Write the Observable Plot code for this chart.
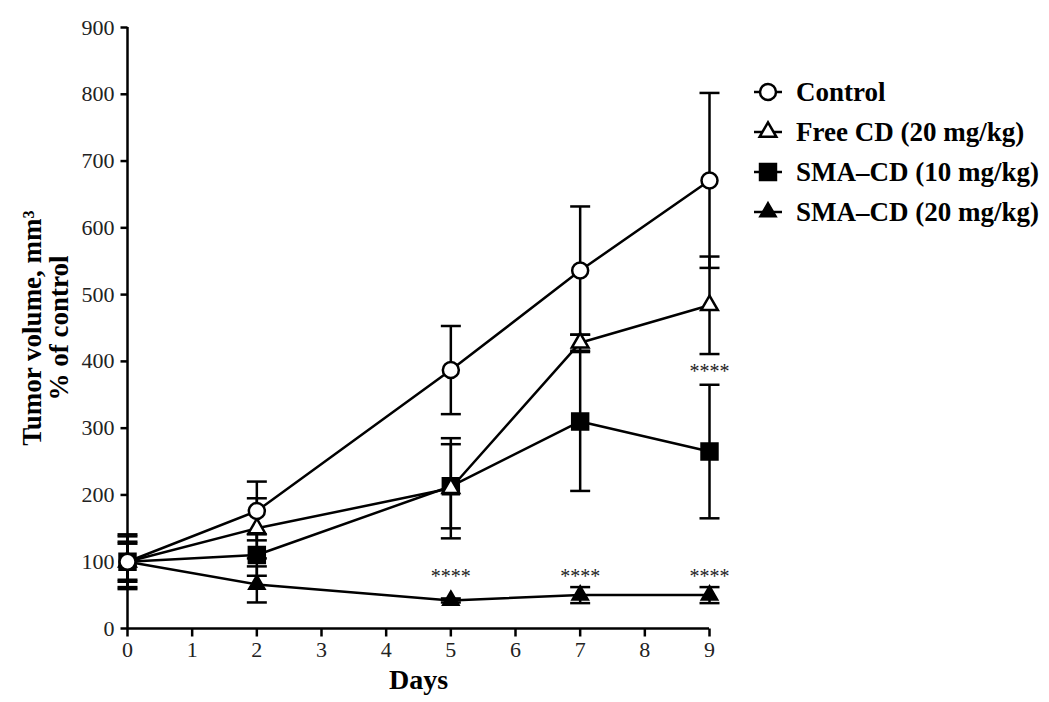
<!DOCTYPE html>
<html>
<head>
<meta charset="utf-8">
<script src="https://cdn.jsdelivr.net/npm/d3@7"></script>
<script src="https://cdn.jsdelivr.net/npm/@observablehq/plot@0.6"></script>
<style>
  html, body { margin: 0; padding: 0; background: #fff; }
  #wrap { position: relative; width: 1049px; height: 702px; }
  #legend { position: absolute; left: 752px; top: 72px; font-family: "Liberation Serif", serif; font-weight: bold; font-size: 27px; color: #000; white-space: nowrap; }
  .row { display: flex; align-items: center; height: 40px; }
  .row svg { margin-right: 12px; }
</style>
</head>
<body>
<div id="wrap"><div id="legend"></div></div>
<script>
// ---- data ----
const days = [0, 2, 5, 7, 9];
const seriesNames = ["Control", "Free CD (20 mg/kg)", "SMA\u2013CD (10 mg/kg)", "SMA\u2013CD (20 mg/kg)"];
const control    = [100, 176, 387, 536, 671];
const controlErr = [27, 44, 66, 96, 131];
const freeCD     = [100, 150, 210, 428, 484];
const freeCDErr  = [41, 45, 75, 12, 73];
const sma10      = [100, 110, 213, 310, 265];
const sma10Err   = [30, 31, 63, 104, 100];
const sma20      = [100, 66, 42, 50, 50];
const sma20Err   = [38, 27, 3, 12, 12];
const starDays   = [5, 7, 9, 9];
const starValues = [82, 82, 82, 389];
const yTicks = [0, 100, 200, 300, 400, 500, 600, 700, 800, 900];
const xTicks = [0, 1, 2, 3, 4, 5, 6, 7, 8, 9];

const styles = [
  {symbol: "circle",   r: 8,   fill: "white"},
  {symbol: "triangle", r: 6.2, fill: "white"},
  {symbol: "square",   r: 9,   fill: "black"},
  {symbol: "triangle", r: 5.6, fill: "black"}
];
const values = [control, freeCD, sma10, sma20];
const errs = [controlErr, freeCDErr, sma10Err, sma20Err];

const rows = [];
values.forEach((v, s) => days.forEach((d, i) => rows.push({
  series: seriesNames[s], s, day: d, value: v[i], lo: v[i] - errs[s][i], hi: v[i] + errs[s][i]
})));

// custom symbols: error-bar caps and thick axis ticks
const cap = {draw(ctx, size) { const h = Math.sqrt(size / Math.PI); ctx.moveTo(-h, 0); ctx.lineTo(h, 0); }};
const yTickSym = {draw(ctx, size) { const h = Math.sqrt(size / Math.PI); ctx.moveTo(-h, 0); ctx.lineTo(0, 0); }};
const xTickSym = {draw(ctx, size) { const h = Math.sqrt(size / Math.PI); ctx.moveTo(0, 0); ctx.lineTo(0, h); }};
const font = "Liberation Serif";

const marks = [
  Plot.ruleX([0], {stroke: "black", strokeWidth: 2.5}),
  Plot.ruleY([0], {stroke: "black", strokeWidth: 2.5}),
  Plot.dot(yTicks, {x: () => 0, y: d => d, symbol: yTickSym, r: 7, stroke: "black", strokeWidth: 2.5, fill: "none"}),
  Plot.dot(xTicks, {x: d => d, y: () => 0, symbol: xTickSym, r: 8, stroke: "black", strokeWidth: 2.5, fill: "none"}),
  Plot.axisY({ticks: yTicks, tickSize: 0, tickPadding: 13, fontSize: 22, fill: "#222", label: null}),
  Plot.axisX({ticks: xTicks, tickSize: 0, tickPadding: 13, fontSize: 22, fill: "#222", label: null}),
  Plot.line(rows, {x: "day", y: "value", z: "series", stroke: "black", strokeWidth: 2.5}),
  Plot.ruleX(rows, {x: "day", y1: "lo", y2: "hi", stroke: "black", strokeWidth: 2.5}),
  Plot.dot(rows, {x: "day", y: "hi", symbol: cap, r: 10, stroke: "black", strokeWidth: 2.5, fill: "none"}),
  Plot.dot(rows, {x: "day", y: "lo", symbol: cap, r: 10, stroke: "black", strokeWidth: 2.5, fill: "none"})
];
// markers, drawn back to front
[3, 2, 1, 0].forEach(s => {
  const st = styles[s];
  marks.push(Plot.dot(rows.filter(d => d.s === s), {
    x: "day", y: "value", symbol: st.symbol, r: st.r, fill: st.fill, stroke: "black", strokeWidth: 2.5
  }));
});
marks.push(
  Plot.text(starDays.map((d, i) => ({day: d, v: starValues[i]})), {x: "day", y: "v", text: () => "****", fontSize: 20, fill: "#222", dy: 3}),
  Plot.text(["Days"], {frameAnchor: "bottom", dy: 60, fontSize: 28, fontWeight: "bold", fill: "black"}),
  Plot.text(["Tumor volume, mm\u00b3\n% of control"], {frameAnchor: "left", textAnchor: "middle", rotate: -90, dx: -82, fontSize: 27, lineHeight: 1.0, fontWeight: "bold", fill: "black"})
);

const chart = Plot.plot({
  width: 1049, height: 702,
  marginLeft: 127, marginRight: 340, marginTop: 27, marginBottom: 74,
  style: {fontFamily: font, background: "white"},
  x: {domain: [0, 9]},
  y: {domain: [0, 900]},
  marks
});
document.getElementById("wrap").prepend(chart);

// legend
const legend = document.getElementById("legend");
seriesNames.forEach((name, s) => {
  const st = styles[s];
  const row = document.createElement("div");
  row.className = "row";
  const sym = d3.symbol(st.symbol === "circle" ? d3.symbolCircle : st.symbol === "square" ? d3.symbolSquare : d3.symbolTriangle, Math.PI * st.r * st.r)();
  row.innerHTML = `<svg width="32" height="24" viewBox="-16 -12 32 24"><line x1="-14" x2="14" y1="0" y2="0" stroke="black" stroke-width="2.5"/><path d="${sym}" fill="${st.fill}" stroke="black" stroke-width="2.5"/></svg><span>${name}</span>`;
  legend.appendChild(row);
});
</script>
</body>
</html>
